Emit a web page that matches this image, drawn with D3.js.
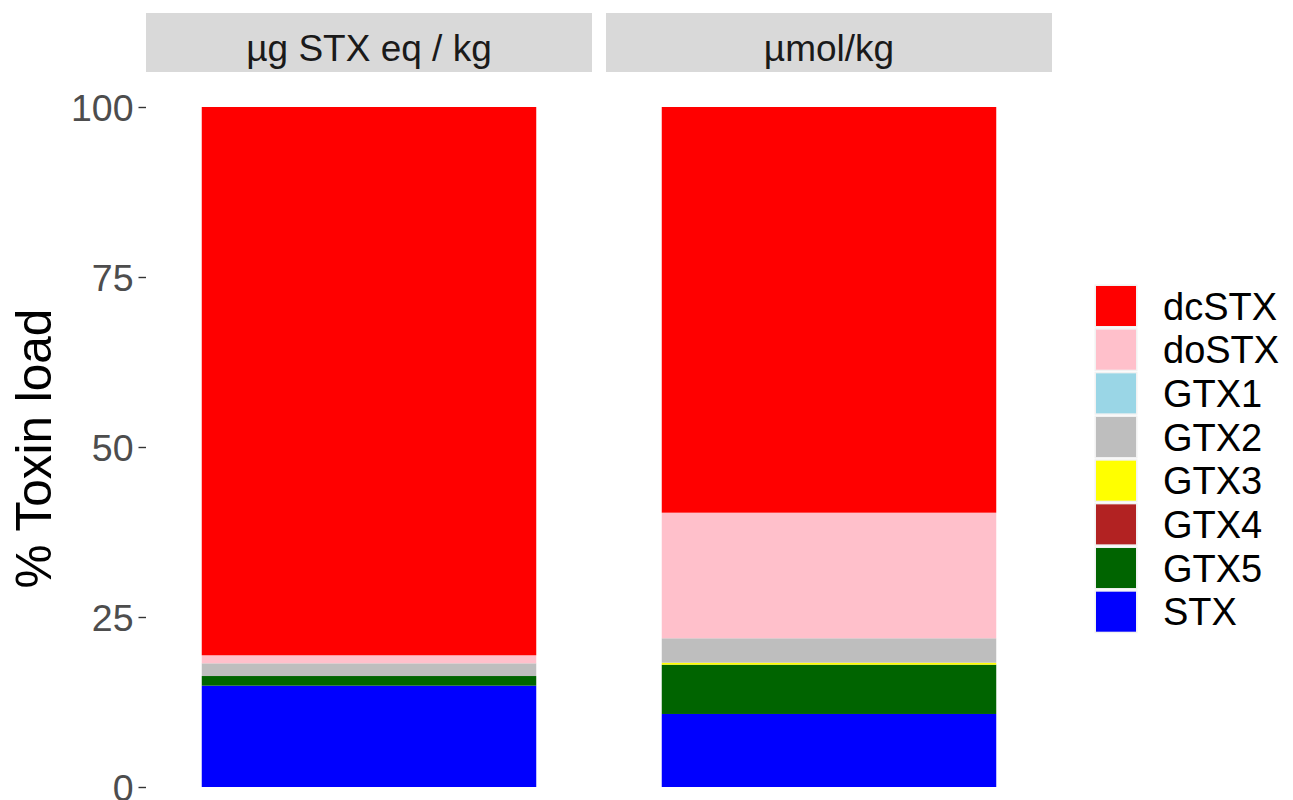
<!DOCTYPE html>
<html>
<head>
<meta charset="utf-8">
<script src="https://cdn.jsdelivr.net/npm/d3@7"></script>
<style>
  html, body { margin: 0; padding: 0; background: #ffffff; }
  svg { display: block; font-family: "Liberation Sans", Arial, sans-serif; }
</style>
</head>
<body>
<svg id="chart" width="1293" height="800"></svg>
<script>
// Toxin profile, stacked to 100 %, in two units of measure
const toxins = ["dcSTX", "doSTX", "GTX1", "GTX2", "GTX3", "GTX4", "GTX5", "STX"];
const toxinColors = ["#FF0000", "#FFC0CB", "#9AD6E6", "#BEBEBE", "#FFFF00", "#B22222", "#006400", "#0000FF"];
const units = ["µg STX eq / kg", "µmol/kg"];
const pctStxEq = [80.63, 1.18, 0, 1.87, 0, 0, 1.42, 14.90];
const pctMolar = [59.66, 18.47, 0, 3.59, 0.29, 0, 7.25, 10.74];
const yTicks = [0, 25, 50, 75, 100];
const yTitle = "% Toxin load";

const seriesByUnit = [pctStxEq, pctMolar];
const rows = units.map((u, i) => {
  const row = { unit: u };
  toxins.forEach((t, j) => { row[t] = seriesByUnit[i][j]; });
  return row;
});

const svg = d3.select("#chart");
const color = d3.scaleOrdinal().domain(toxins).range(toxinColors);

// layout
const panelTop = 73;
const panelX = d3.scaleBand().domain(units).range([146, 1052]).paddingInner(14 / 460).paddingOuter(0);
const y = d3.scaleLinear().domain([0, 100]).range([787, 107]);

// bottom layer first: STX at the base, dcSTX on top
const stack = d3.stack().keys(toxins.slice().reverse());

rows.forEach(row => {
  const px = panelX(row.unit);
  const pw = panelX.bandwidth();
  const g = svg.append("g").attr("transform", `translate(${px},0)`);

  // strip
  g.append("rect").attr("x", 0).attr("y", 13).attr("width", pw).attr("height", panelTop - 1 - 13)
    .attr("fill", "#D9D9D9");
  g.append("text").attr("x", pw / 2).attr("y", 60.5).attr("text-anchor", "middle")
    .attr("font-size", 37).attr("fill", "#1A1A1A").text(row.unit);

  // bars
  const x = d3.scaleBand().domain([row.unit]).range([0, pw]).paddingInner(0.1).paddingOuter(0.15);
  const layers = stack([row]);
  g.selectAll("rect.seg").data(layers).join("rect")
    .attr("class", "seg")
    .attr("x", x(row.unit))
    .attr("width", x.bandwidth())
    .attr("y", d => y(d[0][1]))
    .attr("height", d => Math.max(0, y(d[0][0]) - y(d[0][1])))
    .attr("fill", d => color(d.key));
});

// y axis (ticks + labels only)
const yAxis = d3.axisLeft(y).tickValues(yTicks).tickSize(7.5).tickPadding(5);
const ya = svg.append("g").attr("transform", "translate(146,0)").call(yAxis);
ya.select(".domain").remove();
ya.selectAll(".tick line").attr("stroke", "#333333").attr("stroke-width", 1.4);
ya.selectAll(".tick text").attr("fill", "#4D4D4D").attr("font-size", 37.5)
  .attr("font-family", "'Liberation Sans', Arial, sans-serif")
  .attr("dy", "0.36em");

// y title
svg.append("text")
  .attr("transform", "translate(51,448.5) rotate(-90)")
  .attr("text-anchor", "middle")
  .attr("font-size", 49.5)
  .attr("fill", "#000000")
  .text(yTitle);

// legend
const keyTop = 286, keyStep = 43.67, keyX = 1096, keySize = 40;
const lg = svg.append("g");
const items = lg.selectAll("g").data(toxins).join("g")
  .attr("transform", (d, i) => `translate(${keyX},${keyTop + i * keyStep})`);
items.append("rect").attr("x", -1.5).attr("y", -1.5).attr("width", keySize + 3).attr("height", keySize + 3)
  .attr("fill", "#F2F2F2");
items.append("rect").attr("x", 0).attr("y", 0).attr("width", keySize).attr("height", keySize)
  .attr("fill", d => color(d));
items.append("text").attr("x", 67).attr("y", keySize / 2).attr("dy", "0.36em")
  .attr("font-size", 38).attr("fill", "#000000").text(d => d);
</script>
</body>
</html>
